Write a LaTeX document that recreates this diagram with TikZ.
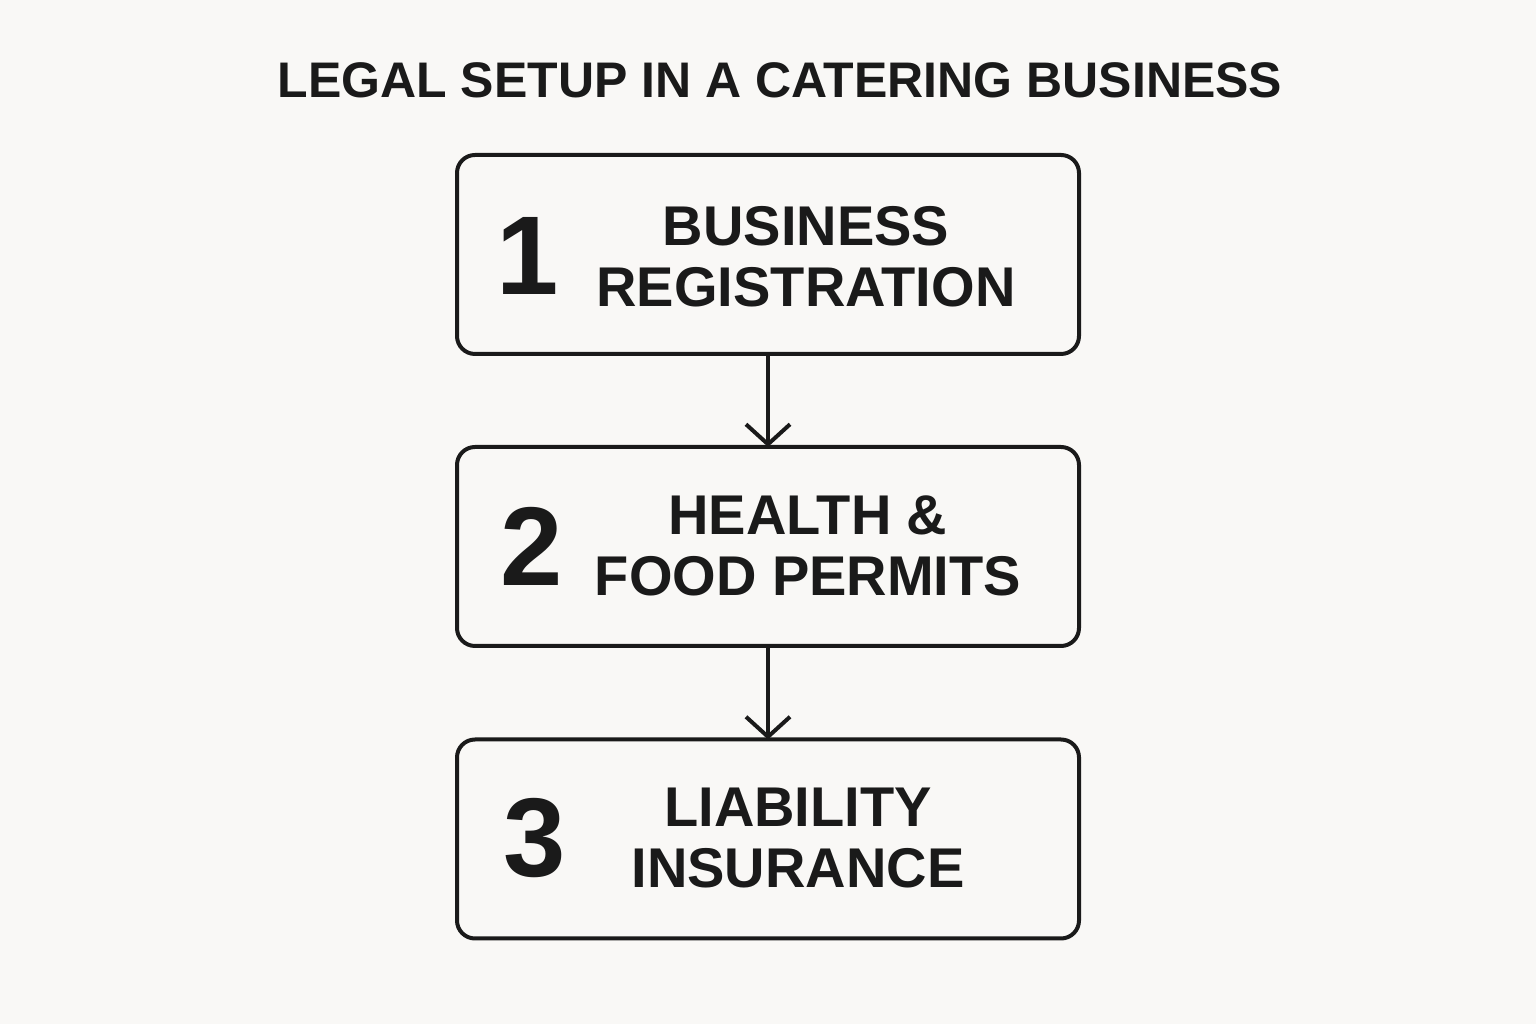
\documentclass[tikz,border=0pt]{standalone}
\usepackage{fontspec}
\setmainfont{Liberation Sans}
\usetikzlibrary{arrows.meta}
\definecolor{bg}{HTML}{F9F8F6}
\definecolor{ink}{HTML}{1A1A1A}
\begin{document}
\begin{tikzpicture}[x=1pt,y=1pt,
  stepbox/.style={draw=ink,line width=4pt,rounded corners=18pt,minimum width=622pt,minimum height=199pt,inner sep=0pt},
  num/.style={font=\fontsize{112}{112}\selectfont\bfseries,text=ink},
  lbl/.style={font=\fontsize{56}{61}\selectfont\bfseries,text=ink,align=center},
  conn/.style={draw=ink,line width=4pt,-{Straight Barb[length=20pt,width=44pt,line width=4pt]}}]
\fill[bg] (0,0) rectangle (1536,1024);
\useasboundingbox (0,0) rectangle (1536,1024);
\node[font=\fontsize{50}{50}\selectfont\bfseries,text=ink] (title) at (780,944) {LEGAL SETUP IN A CATERING BUSINESS};
\node[stepbox] (b1) at (768,769.5) {};
\node[stepbox] (b2) at (768,477.5) {};
\node[stepbox] (b3) at (768,185) {};
\node[num] (n1) at (528,768) {1};
\node[num] (n2) at (532,478) {2};
\node[num] (n3) at (535,186) {3};
\node[lbl] (t1) at (806,767) {BUSINESS\\REGISTRATION};
\node[lbl] (t2) at (808,478) {HEALTH \&\\FOOD PERMITS};
\node[lbl] (t3) at (798,186) {LIABILITY\\INSURANCE};
\draw[conn] (b1.south) -- ([yshift=-2pt]b2.north);
\draw[conn] (b2.south) -- ([yshift=-2pt]b3.north);
\end{tikzpicture}
\end{document}
